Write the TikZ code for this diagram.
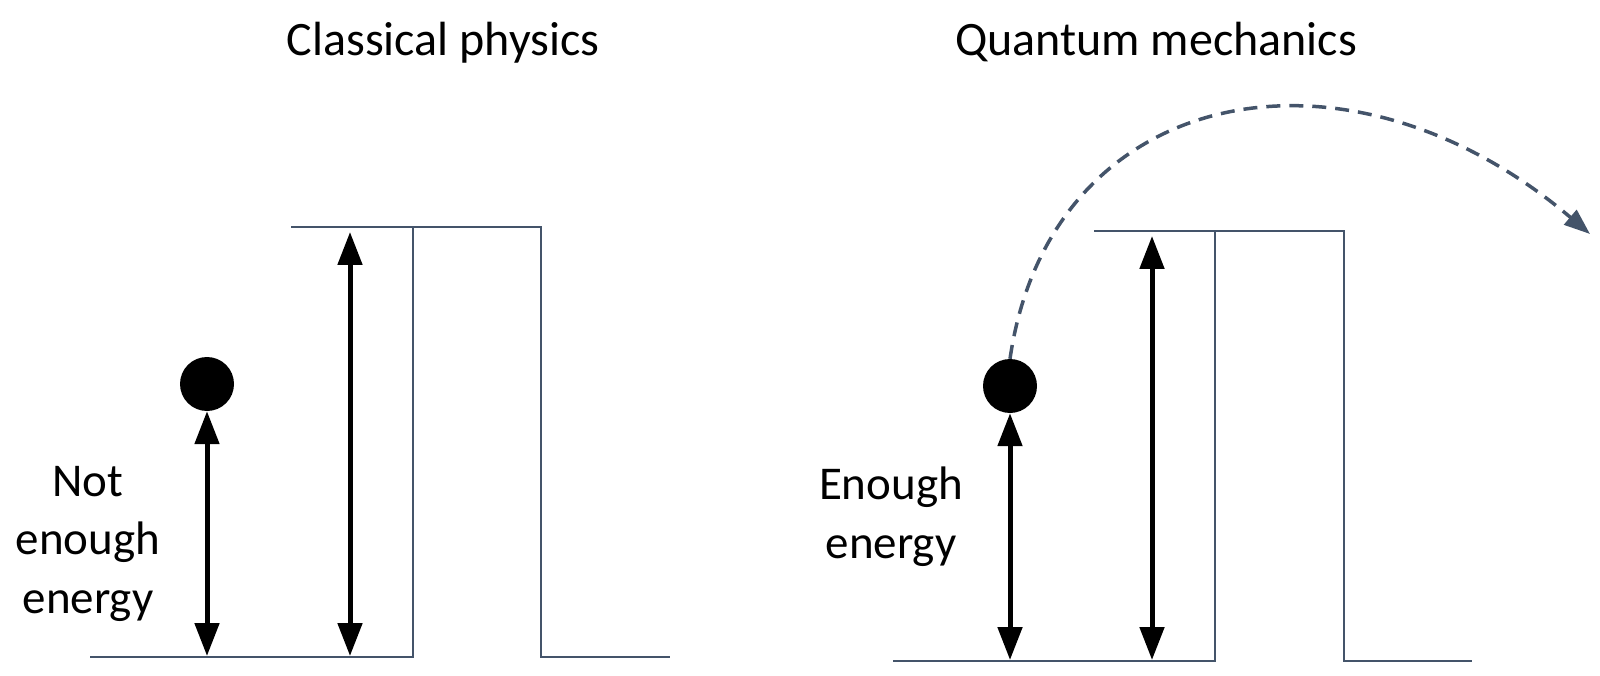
\documentclass[tikz,border=0pt]{standalone}
\usepackage{fontspec}
\setmainfont{Carlito}
\usetikzlibrary{arrows.meta}
\definecolor{linec}{HTML}{44546A}
\begin{document}
\begin{tikzpicture}[x=1pt,y=-1pt,
  barrier/.style={draw=linec,line width=2.2pt,line join=miter},
  dbl/.style={line width=5pt,{Triangle[width=24pt,length=33pt]}-{Triangle[width=24pt,length=33pt]}},
  ball/.style={circle,fill=black,minimum size=54pt,inner sep=0pt},
  heading/.style={font=\fontsize{48}{58}\selectfont,anchor=base,inner sep=0pt},
  lbl/.style={font=\fontsize{47}{58.5}\selectfont,align=center,anchor=base,inner sep=0pt},
  jump/.style={draw=linec,line width=3.5pt,dash pattern=on 14pt off 9pt,-{Triangle[width=19pt,length=26pt]}}
]
\useasboundingbox (0,0) rectangle (1600,676);

% ---------- left panel ----------
\node[heading] (tL) at (443,56) {Classical physics};
\coordinate (LbaseL) at (90,657);
\coordinate (Lw1b) at (413,657);
\coordinate (Lw1t) at (413,227);
\coordinate (LtopL) at (291,227);
\coordinate (LtopR) at (541,227);
\coordinate (Lw2b) at (541,657);
\coordinate (LbaseR) at (670,657);
\draw[barrier] (LbaseL) -- (Lw1b) -- (Lw1t);
\draw[barrier] (LtopL) -- (LtopR) -- (Lw2b) -- (LbaseR);
\node[ball] (Lball) at (207,384) {};
\coordinate (La1b) at (207,656);
\coordinate (La2t) at (350,232);
\coordinate (La2b) at (350,656);
\draw[dbl] (Lball.south) -- (La1b);
\draw[dbl] (La2t) -- (La2b);
% base anchor = baseline of the last line
\node[lbl] (Llbl) at (88,613) {Not\\enough\\energy};

% ---------- right panel ----------
\node[heading] (tR) at (1156,56) {Quantum mechanics};
\coordinate (RbaseL) at (893,661);
\coordinate (Rw1b) at (1215,661);
\coordinate (Rw1t) at (1215,231);
\coordinate (RtopL) at (1094,231);
\coordinate (RtopR) at (1344,231);
\coordinate (Rw2b) at (1344,661);
\coordinate (RbaseR) at (1472,661);
\draw[barrier] (RbaseL) -- (Rw1b) -- (Rw1t);
\draw[barrier] (RtopL) -- (RtopR) -- (Rw2b) -- (RbaseR);
\node[ball] (Rball) at (1010,386) {};
\coordinate (Ra1b) at (1010,660);
\coordinate (Ra2t) at (1152,236);
\coordinate (Ra2b) at (1152,660);
\draw[dbl] (Rball.south) -- (Ra1b);
\draw[dbl] (Ra2t) -- (Ra2b);
\node[lbl] (Rlbl) at (891,558) {Enough\\energy};
\coordinate (Rend) at (1590,234);
\draw[jump] (Rball.north) .. controls (1050,85) and (1345,26) .. (Rend);
\end{tikzpicture}
\end{document}
